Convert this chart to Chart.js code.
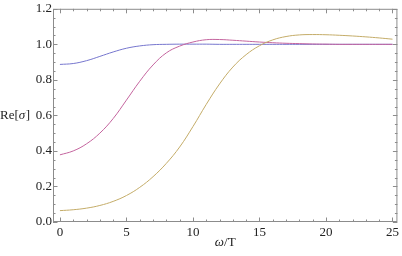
<!DOCTYPE html>
<html>
<head>
<meta charset="utf-8">
<script src="https://cdn.jsdelivr.net/npm/chart.js@4"></script>
<style>
html,body{margin:0;padding:0;background:#fff;}
canvas{display:block;}
</style>
</head>
<body>
<canvas id="c" width="402" height="256"></canvas>
<script>
const omega = [0,1,2,3,4,5,6,7,8,9,10,11,12,13,14,15,16,17,18,19,20,21,22,23,24,25];
const seriesBlue = [0.887,0.892,0.908,0.932,0.957,0.978,0.991,0.998,1.000,1.001,1.001,1.001,1.000,1.000,1.000,1.000,1.000,1.000,1.000,1.000,1.000,1.000,1.000,1.000,1.000,1.000];
const seriesMagenta = [0.378,0.400,0.440,0.500,0.582,0.686,0.792,0.884,0.952,0.990,1.013,1.026,1.027,1.023,1.018,1.013,1.009,1.006,1.004,1.002,1.001,1.000,1.000,1.000,1.000,1.000];
const seriesGold = [0.064,0.069,0.078,0.093,0.116,0.149,0.195,0.255,0.330,0.422,0.537,0.662,0.777,0.872,0.942,0.992,1.025,1.044,1.053,1.055,1.054,1.051,1.047,1.042,1.036,1.029];
const xTickLabels = [0,5,10,15,20,25];
const yTickLabels = [0.0,0.2,0.4,0.6,0.8,1.0,1.2];

const toPts = arr => arr.map((v,i)=>({x:omega[i], y:v}));
const SERIF = "'Liberation Serif', 'Times New Roman', serif";
const FS = 13;
Chart.defaults.font.family = SERIF;
Chart.defaults.font.size = FS;
Chart.defaults.color = '#222';

const frameTicks = {
  id:'frameTicks',
  afterDatasetsDraw(chart){
    const {ctx, chartArea:a, scales:{x, y}} = chart;
    ctx.save();
    ctx.strokeStyle = '#8c8c8c';
    ctx.lineWidth = 1;
    ctx.strokeRect(a.left+0.5, a.top+0.5, a.right-a.left-1, a.bottom-a.top-1);
    ctx.beginPath();
    for (let v=0; v<=25.001; v+=1){
      const px = Math.round(x.getPixelForValue(v))+0.5;
      const L = (Math.round(v)%5===0) ? 4.5 : 2.5;
      ctx.moveTo(px, a.bottom); ctx.lineTo(px, a.bottom-L);
      ctx.moveTo(px, a.top); ctx.lineTo(px, a.top+L);
    }
    for (let k=0; k<=24; k++){
      const v = k*0.05;
      const py = Math.round(y.getPixelForValue(v))+0.5;
      const L = (k%4===0) ? 4.5 : 2.5;
      ctx.moveTo(a.left, py); ctx.lineTo(a.left+L, py);
      ctx.moveTo(a.right, py); ctx.lineTo(a.right-L, py);
    }
    ctx.stroke();
    // y label Re[σ]
    const yy = y.getPixelForValue(0.6);
    ctx.fillStyle = '#222';
    ctx.textBaseline = 'middle';
    ctx.textAlign = 'left';
    let cx = 0;
    ctx.font = FS + 'px ' + SERIF;
    ctx.fillText('Re[', cx, yy); cx += ctx.measureText('Re[').width;
    ctx.font = 'italic ' + FS + 'px ' + SERIF;
    ctx.fillText('σ', cx, yy); cx += ctx.measureText('σ').width + 0.5;
    ctx.font = FS + 'px ' + SERIF;
    ctx.fillText(']', cx, yy);
    // x label ω/T
    const xx = (a.left + a.right)/2;
    ctx.font = 'italic ' + FS + 'px ' + SERIF;
    const w1 = ctx.measureText('ω').width;
    ctx.font = FS + 'px ' + SERIF;
    const w2 = ctx.measureText('/T').width;
    let sx = xx - (w1+w2)/2;
    ctx.font = 'italic ' + FS + 'px ' + SERIF;
    ctx.fillText('ω', sx, 243);
    ctx.font = FS + 'px ' + SERIF;
    ctx.fillText('/T', sx+w1, 243);
    ctx.restore();
  }
};

const ds = (data, color, order) => ({
  data: toPts(data), borderColor: color, borderWidth: 1, pointRadius: 0,
  fill: false, tension: 0.4, order: order
});

new Chart(document.getElementById('c'), {
  type: 'line',
  data: { datasets: [
    ds(seriesBlue, 'rgb(118,118,206)', 2),
    ds(seriesMagenta, 'rgb(196,100,158)', 1),
    ds(seriesGold, 'rgb(196,172,104)', 0)
  ]},
  options: {
    responsive: false, devicePixelRatio: 1, animation: false,
    layout: { padding: { top: 6, right: 1, left: 0, bottom: 0 } },
    plugins: { legend: {display:false}, tooltip: {enabled:false} },
    scales: {
      x: {
        type: 'linear', min: -0.52, max: 25.37,
        grid: { display: false, drawTicks: false }, border: { display: false },
        afterBuildTicks: s => { s.ticks = xTickLabels.map(v=>({value:v})); },
        afterFit: s => { s.height = 34; },
        ticks: { color:'#222', font:{family:SERIF, size:FS}, padding: 3, maxRotation:0,
          callback: v => String(v) }
      },
      y: {
        type: 'linear', min: 0, max: 1.2,
        grid: { display: false, drawTicks: false }, border: { display: false },
        afterBuildTicks: s => { s.ticks = yTickLabels.map(v=>({value:v})); },
        afterFit: s => { s.width = 53; },
        ticks: { color:'#222', font:{family:SERIF, size:FS}, padding: 1,
          callback: v => Number(v).toFixed(1) }
      }
    }
  },
  plugins: [frameTicks]
});
</script>
</body>
</html>
